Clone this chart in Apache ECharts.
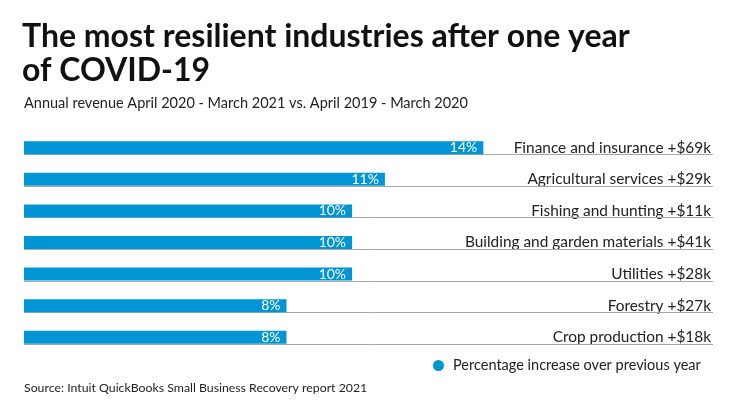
<!DOCTYPE html>
<html>
<head>
<meta charset="utf-8">
<script src="https://cdn.jsdelivr.net/npm/echarts@6/dist/echarts.min.js"></script>
<style>
  html, body { margin: 0; padding: 0; background: #fff; }
  #chart { width: 740px; height: 416px; }
</style>
</head>
<body>
<div id="chart"></div>
<script>
// 行业及收入增量（从上到下）
var industries = ['Finance and insurance', 'Agricultural services', 'Fishing and hunting',
  'Building and garden materials', 'Utilities', 'Forestry', 'Crop production'];
var revenueGain = ['+$69k', '+$29k', '+$11k', '+$41k', '+$28k', '+$27k', '+$18k'];
var pctIncrease = [14, 11, 10, 10, 10, 8, 8];

var FONT = 'Lato, "Open Sans", sans-serif';
var BLUE = '#0095d4';

var chart = echarts.init(document.getElementById('chart'));

var option = {
  backgroundColor: '#fff',
  animation: false,
  title: [
    {
      text: 'The most resilient industries after one year\nof COVID-19',
      left: 22, top: 20, padding: 0,
      textStyle: { fontFamily: FONT, fontSize: 32, fontWeight: 'bold', color: '#111', lineHeight: 34 }
    },
    {
      text: 'Annual revenue April 2020 - March 2021 vs. April 2019 - March 2020',
      left: 24, top: 95, padding: 0,
      textStyle: { fontFamily: FONT, fontSize: 14.5, fontWeight: 'normal', color: '#222', lineHeight: 16 }
    },
    {
      text: 'Source: Intuit QuickBooks Small Business Recovery report 2021',
      left: 24, top: 381, padding: 0,
      textStyle: { fontFamily: FONT, fontSize: 12.3, fontWeight: 'normal', color: '#222', lineHeight: 14 }
    }
  ],
  legend: {
    data: ['Percentage increase over previous year'],
    left: 433, top: 358, padding: 0,
    icon: 'circle', itemWidth: 11, itemHeight: 11, itemGap: 0,
    textStyle: { fontFamily: FONT, fontSize: 14.5, color: '#222', padding: [0, 0, 0, 4] }
  },
  grid: { left: 24, right: 27, top: 132, bottom: 63, containLabel: false },
  xAxis: {
    type: 'value', min: 0, max: 21, show: false
  },
  yAxis: {
    type: 'category',
    data: industries,
    inverse: true,
    position: 'right',
    axisLine: { show: false },
    axisTick: { show: false },
    splitLine: { show: false },
    axisLabel: {
      inside: true,
      margin: 2,
      fontFamily: FONT,
      fontSize: 15.4,
      color: '#222',
      formatter: function (v, i) { return v + ' ' + revenueGain[i]; }
    }
  },
  series: [
    {
      // 每行底部的灰色细线
      type: 'custom',
      silent: true,
      data: industries.map(function (c) { return [0, c]; }),
      encode: { x: 0, y: 1 },
      renderItem: function (params, api) {
        var cs = params.coordSys;
        var y = Math.round(api.coord([0, api.value(1)])[1] + 6.5) + 0.5;
        return {
          type: 'line',
          shape: { x1: cs.x, y1: y, x2: cs.x + cs.width, y2: y },
          style: { stroke: '#a8a8a8', lineWidth: 1 }
        };
      },
      z: 1
    },
    {
      name: 'Percentage increase over previous year',
      type: 'bar',
      data: pctIncrease,
      barWidth: 13,
      itemStyle: { color: BLUE },
      label: {
        show: true,
        position: 'insideRight',
        distance: 6,
        fontFamily: FONT,
        fontSize: 14,
        color: '#fff',
        formatter: '{c}%'
      },
      z: 2
    }
  ]
};

chart.setOption(option);
window.addEventListener('resize', function () { chart.resize(); });
</script>
</body>
</html>
